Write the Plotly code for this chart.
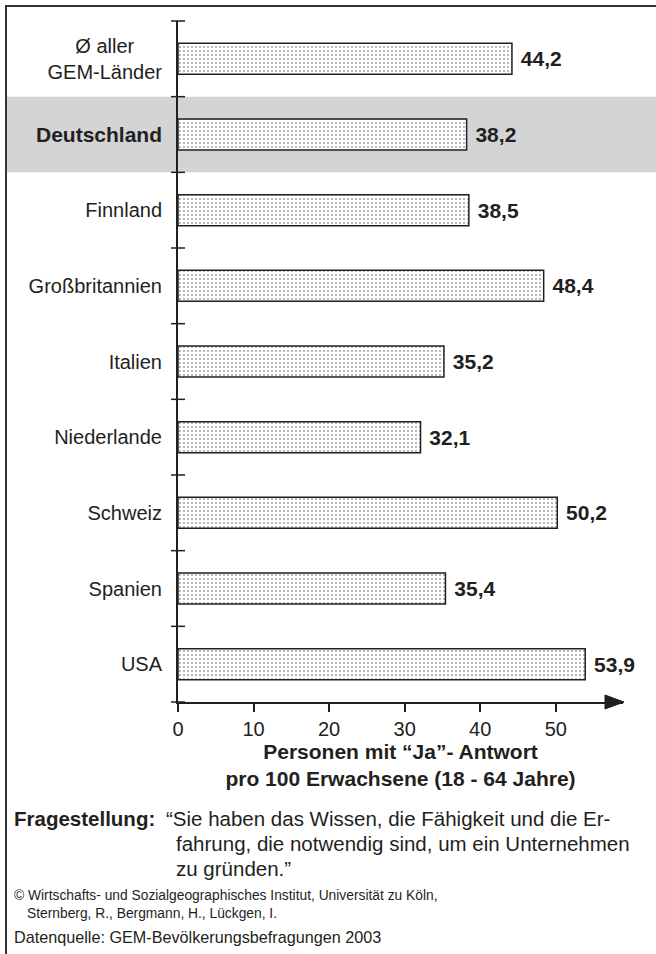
import plotly.graph_objects as go

# data
laender = ["Ø aller GEM-Länder", "Deutschland", "Finnland", "Großbritannien", "Italien",
           "Niederlande", "Schweiz", "Spanien", "USA"]
ja_antworten = [44.2, 38.2, 38.5, 48.4, 35.2, 32.1, 50.2, 35.4, 53.9]
tick_labels = ["Ø aller" + "\u00a0" * 5 + "<br>GEM-Länder",
               "<span style='font-size:21px'><b>Deutschland</b></span>", "Finnland",
               "Großbritannien", "Italien", "Niederlande", "Schweiz", "Spanien", "USA"]
x_ticks = [0, 10, 20, 30, 40, 50]
x_max = 58.9

FONT = "Liberation Sans, Arial, sans-serif"
INK = "#231f20"

# plot area in pixels (page is 656 x 954)
W, H = 656, 954
L, R, T, B = 178, 623, 21, 702


def px_x(px):
    return (px - L) / (R - L)


def px_y(py):
    return (B - py) / (B - T)


fig = go.Figure()

fig.add_trace(go.Bar(
    y=laender, x=ja_antworten, orientation="h", width=0.41,
    marker=dict(color="white", line=dict(color=INK, width=1.5),
                pattern=dict(shape=".", fgcolor="#444444", bgcolor="white", size=4, solidity=0.2)),
    text=["\u00a0" + f"{v:.1f}".replace(".", ",") for v in ja_antworten],
    textposition="outside", constraintext="none", cliponaxis=False,
    textfont=dict(family=FONT, size=21, color=INK, weight="bold"),
    hoverinfo="skip",
))

n = len(laender)
shapes = []
# grey band behind Deutschland
shapes.append(dict(type="rect", xref="paper", yref="y", x0=px_x(6), x1=px_x(W), y0=0.5, y1=1.5,
                   fillcolor="#d3d4d6", line=dict(width=0), layer="below"))
# frame (left and top)
shapes.append(dict(type="line", xref="paper", yref="paper", x0=px_x(6), x1=px_x(6),
                   y0=px_y(5), y1=px_y(H + 5), line=dict(color="#333333", width=2)))
shapes.append(dict(type="line", xref="paper", yref="paper", x0=px_x(5), x1=px_x(W + 5),
                   y0=px_y(6), y1=px_y(6), line=dict(color="#333333", width=2)))
# crossing ticks on the category axis (at the category boundaries)
for i in range(n + 1):
    yb = 1 - i / n
    shapes.append(dict(type="line", xref="paper", yref="paper", xsizemode="pixel", xanchor=0,
                       x0=-7, x1=7, y0=yb, y1=yb, line=dict(color=INK, width=1.5)))
# arrow head on x axis
shapes.append(dict(type="path", xref="paper", yref="paper", xsizemode="pixel", ysizemode="pixel",
                   xanchor=1, yanchor=0, path="M-18,-7 L1,0 L-18,7 Z",
                   fillcolor=INK, line=dict(color=INK, width=1)))

annotations = []


def note(text, x, y, size=20.5, bold=False):
    annotations.append(dict(text=f"<b>{text}</b>" if bold else text, xref="paper", yref="paper",
                            x=px_x(x), y=px_y(y), xanchor="left", yanchor="middle", showarrow=False,
                            font=dict(family=FONT, size=size, color=INK)))


note("Fragestellung:", 12, 818, bold=True)
note("“Sie haben das Wissen, die Fähigkeit und die Er-", 164, 818)
note("fahrung, die notwendig sind, um ein Unternehmen", 174, 843)
note("zu gründen.”", 174, 868)
note("© Wirtschafts- und Sozialgeographisches Institut, Universität zu Köln,", 12, 895, size=13.8)
note("Sternberg, R., Bergmann, H., Lückgen, I.", 25, 913, size=13.8)
note("Datenquelle: GEM-Bevölkerungsbefragungen 2003", 12, 937, size=16.2)

fig.update_layout(
    width=W, height=H,
    margin=dict(l=L, r=W - R, t=T, b=H - B, pad=0),
    paper_bgcolor="white", plot_bgcolor="rgba(0,0,0,0)",
    showlegend=False,
    font=dict(family=FONT, color=INK),
    shapes=shapes, annotations=annotations,
    xaxis=dict(range=[0, x_max], tickvals=x_ticks, ticks="outside", ticklen=8, tickwidth=1.5,
               tickcolor=INK, showgrid=False, zeroline=False, showline=True, linecolor=INK,
               linewidth=2, tickfont=dict(size=20, color=INK),
               title=dict(text="<b>Personen mit “Ja”- Antwort<br>pro 100 Erwachsene (18 - 64 Jahre)</b>",
                          font=dict(size=21, color=INK), standoff=3)),
    yaxis=dict(categoryorder="array", categoryarray=laender, range=[n - 0.5, -0.5],
               tickvals=laender, ticktext=tick_labels, ticks="", ticklabelstandoff=10,
               showgrid=False, zeroline=False, showline=True, linecolor=INK, linewidth=2,
               tickfont=dict(size=20, color=INK)),
)

# the page has a default 8px body margin; drop it so the figure fills the window
fig.write_html("out.html", config={"displayModeBar": False},
               post_script="document.body.style.margin = '0';")
